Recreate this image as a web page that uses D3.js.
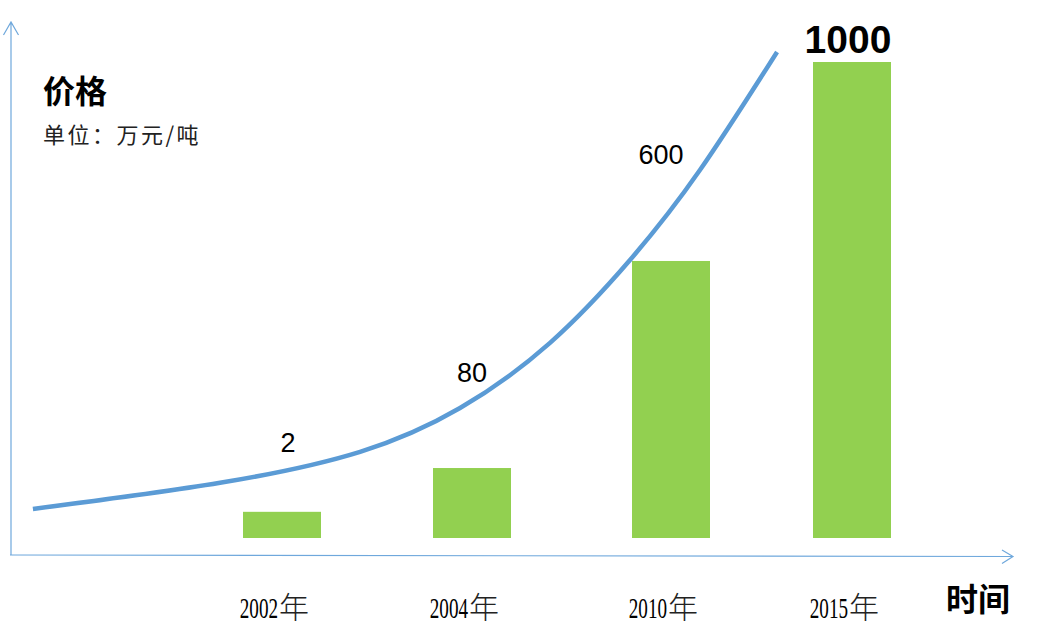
<!DOCTYPE html>
<html>
<head>
<meta charset="utf-8">
<script src="https://cdn.jsdelivr.net/npm/d3@7"></script>
<style>
  html, body { margin: 0; padding: 0; background: #fff; }
  svg { display: block; }
</style>
</head>
<body>
<svg id="chart" width="1038" height="638"></svg>
<script>
// ---- data ----
const categories = ["2002年", "2004年", "2010年", "2015年"];
const prices = ["2", "80", "600", "1000"];             // labelled price (万元/吨)
const barLevel = [5.5, 14.7, 58.2, 100];                // schematic bar height (% of tallest)
const trendSlot = [-1.311, -0.326, 0.411, 0.937, 1.392, 1.794, 2.160, 2.586];  // trend curve position (category units)
const trendLevel = [6.1, 11.6, 18.1, 27.3, 41.0, 58.4, 77.3, 102.1];           // trend curve level
const yTitle = "价格";
const yUnit = "单位：万元/吨";
const xTitle = "时间";

// ---- setup ----
const svg = d3.select("#chart");
const W = 1038, H = 638;
svg.append("rect").attr("width", W).attr("height", H).attr("fill", "#fff");

// category slots are not evenly spaced in the original: piecewise-linear scale
const x = d3.scaleLinear().domain([0, 1, 2, 3]).range([282, 472, 671, 852]);
const y = d3.scaleLinear().domain([0, 100]).range([538, 62]);

const axisColor = "#6fa8dc";
const barColor = "#92d050";
const lineColor = "#5b9bd5";

// ---- axes (arrows) ----
const ax = svg.append("g").attr("stroke", axisColor).attr("stroke-width", 1.2).attr("fill", "none");
ax.append("path").attr("d", "M11,555 L11,22 M3.5,35 L11,22 L18.5,35");
ax.append("path").attr("d", "M10,555 L1013,556.5 M1002,550 L1013,556.5 L1002,563.5");

// ---- bars ----
svg.append("g").selectAll("rect").data(barLevel).join("rect")
  .attr("x", (d, i) => x(i) - 39)
  .attr("width", 78)
  .attr("y", d => y(d))
  .attr("height", d => y(0) - y(d))
  .attr("fill", barColor);

// ---- trend curve ----
const pts = trendSlot.map((s, i) => [s, trendLevel[i]]);
const line = d3.line().x(d => x(d[0])).y(d => y(d[1])).curve(d3.curveNatural);
svg.append("path").datum(pts)
  .attr("d", line)
  .attr("fill", "none")
  .attr("stroke", lineColor)
  .attr("stroke-width", 4.5);

// curve level at a given slot (linear interpolation of trend points)
function trendAt(s) {
  const i = d3.bisectLeft(trendSlot, s);
  if (i <= 0) return trendLevel[0];
  if (i >= trendSlot.length) return trendLevel[trendLevel.length - 1];
  const t = (s - trendSlot[i - 1]) / (trendSlot[i] - trendSlot[i - 1]);
  return trendLevel[i - 1] + t * (trendLevel[i] - trendLevel[i - 1]);
}

// ---- value labels ----
const labelDy = [-17, -17, -45, -9];
const labelDx = [6, 0, -10, -4];
svg.append("g").selectAll("text").data(prices).join("text")
  .attr("x", (d, i) => x(i) + labelDx[i])
  .attr("y", (d, i) => (i < 3 ? y(trendAt(i)) : y(barLevel[i])) + labelDy[i])
  .attr("text-anchor", "middle")
  .attr("font-family", "'Liberation Sans', Arial, sans-serif")
  .attr("font-size", (d, i) => i === 3 ? 39 : 27)
  .attr("font-weight", (d, i) => i === 3 ? "bold" : "normal")
  .attr("fill", "#000")
  .text(d => d);

// ---- category labels ----
const cat = svg.append("g").selectAll("g").data(categories).join("g")
  .attr("transform", (d, i) => `translate(${x(i)},618)`);
cat.append("text")
  .attr("transform", "translate(-4,0) scale(0.66,1)")
  .attr("text-anchor", "end")
  .attr("font-family", "'Liberation Serif', serif")
  .attr("font-size", 29)
  .attr("fill", "#000")
  .text(d => d.slice(0, -1));
cat.append("text")
  .attr("x", -3)
  .attr("font-family", "'Noto Sans CJK SC', sans-serif")
  .attr("font-size", 30)
  .attr("font-weight", 300)
  .attr("fill", "#222")
  .text(d => d.slice(-1));

// ---- titles ----
svg.append("text").attr("x", 43).attr("y", 103)
  .attr("font-family", "'Noto Sans CJK SC', sans-serif")
  .attr("font-size", 32).attr("font-weight", "bold").attr("fill", "#000")
  .text(yTitle);
svg.append("text").attr("x", 43).attr("y", 143)
  .attr("font-family", "'Noto Sans CJK SC', sans-serif")
  .attr("font-size", 22).attr("fill", "#222")
  .attr("letter-spacing", 2.5)
  .text(yUnit);
svg.append("text").attr("x", 946).attr("y", 611)
  .attr("font-family", "'Noto Sans CJK SC', sans-serif")
  .attr("font-size", 32).attr("font-weight", "bold").attr("fill", "#000")
  .text(xTitle);
</script>
</body>
</html>
